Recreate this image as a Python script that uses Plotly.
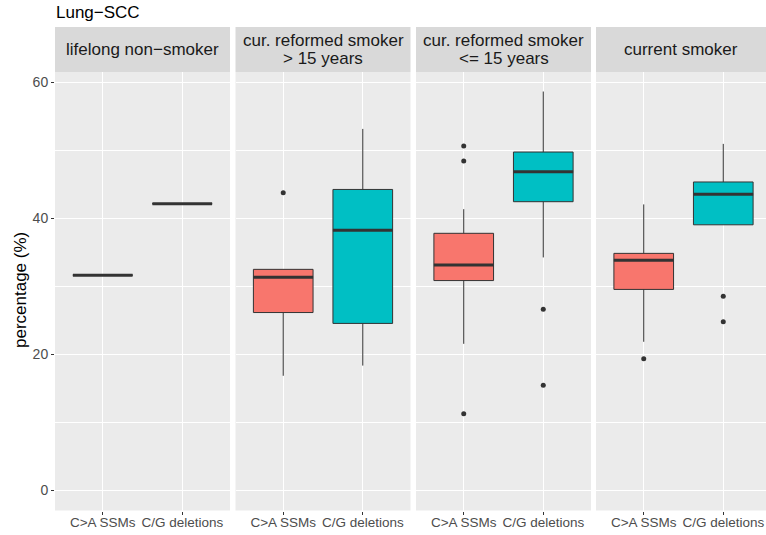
import plotly.graph_objects as go

# ---- data -------------------------------------------------------------
strip_lines = [
    ["lifelong non−smoker"],
    ["cur. reformed smoker", "&gt; 15 years"],
    ["cur. reformed smoker", "&lt;= 15 years"],
    ["current smoker"],
]
categories = ["C>A SSMs", "C/G deletions"]

# C>A SSMs box statistics per smoking group
ca_lower = [31.6, 16.8, 21.5, 21.8]
ca_q1 = [31.6, 26.1, 30.8, 29.5]
ca_median = [31.6, 31.3, 33.1, 33.8]
ca_q3 = [31.6, 32.45, 37.75, 34.8]
ca_upper = [31.6, 32.45, 41.3, 42.0]
ca_outliers = [[], [43.7], [50.6, 48.4, 11.2], [19.3]]

# C/G deletions box statistics per smoking group
cg_lower = [42.1, 18.3, 34.2, 39.0]
cg_q1 = [42.1, 24.5, 42.4, 39.0]
cg_median = [42.1, 38.2, 46.8, 43.5]
cg_q3 = [42.1, 44.2, 49.7, 45.3]
cg_upper = [42.1, 53.1, 58.6, 50.9]
cg_outliers = [[], [], [26.6, 15.4], [28.5, 24.75]]

y_ticks = [0, 20, 40, 60]

# ---- layout geometry ----------------------------------------------------
W, H = 766, 535
panel_px = [(55, 230), (235.5, 410.5), (416, 591), (596, 766)]
px_per_unit = 175 / 2.2
plot_top, plot_bottom = 72, 510.5
strip_top = 27
y_range = [-3.01, 61.47]
box_width = 0.75

fills = ["#F8766D", "#00BFC4"]
dark = "#333333"

fig = go.Figure()

stats = [
    (ca_lower, ca_q1, ca_median, ca_q3, ca_upper, ca_outliers),
    (cg_lower, cg_q1, cg_median, cg_q3, cg_upper, cg_outliers),
]

for p in range(4):
    xa = "x" if p == 0 else f"x{p + 1}"
    ya = "y" if p == 0 else f"y{p + 1}"
    for c, (lo, q1, med, q3, hi, outs) in enumerate(stats):
        pos = c + 1
        fig.add_trace(go.Box(
            x=[pos], q1=[q1[p]], median=[med[p]], q3=[q3[p]],
            lowerfence=[lo[p]], upperfence=[hi[p]],
            fillcolor=fills[c], line=dict(color=dark, width=1),
            width=box_width, whiskerwidth=0, boxpoints=False,
            showlegend=False, hoverinfo="skip", xaxis=xa, yaxis=ya,
        ))
        # thick median bar
        fig.add_trace(go.Scatter(
            x=[pos - box_width / 2, pos + box_width / 2], y=[med[p], med[p]],
            mode="lines", line=dict(color=dark, width=3),
            showlegend=False, hoverinfo="skip", xaxis=xa, yaxis=ya,
        ))
        if outs[p]:
            fig.add_trace(go.Scatter(
                x=[pos] * len(outs[p]), y=outs[p], mode="markers",
                marker=dict(color=dark, size=5),
                showlegend=False, hoverinfo="skip", xaxis=xa, yaxis=ya,
            ))

layout = dict(
    width=W, height=H,
    margin=dict(l=0, r=0, t=0, b=0),
    paper_bgcolor="white", plot_bgcolor="#EBEBEB",
    font=dict(family="Liberation Sans, Arial, sans-serif"),
    shapes=[], annotations=[],
)

y_dom = [(H - plot_bottom) / H, (H - plot_top) / H]

for p, (x0, x1) in enumerate(panel_px):
    suffix = "" if p == 0 else str(p + 1)
    width_units = (x1 - x0) / px_per_unit
    layout[f"xaxis{suffix}"] = dict(
        domain=[x0 / W, x1 / W], anchor=f"y{suffix}",
        range=[0.4, 0.4 + width_units],
        tickvals=[1, 2], ticktext=categories,
        tickfont=dict(size=13.5, color="#4D4D4D"),
        ticks="outside", ticklen=3, tickwidth=1, tickcolor=dark,
        ticklabelstandoff=-4,
        showgrid=True, gridcolor="white", gridwidth=1.1,
        zeroline=False, showline=False,
    )
    layout[f"yaxis{suffix}"] = dict(
        domain=y_dom, anchor=f"x{suffix}", range=y_range,
        tickvals=y_ticks, showticklabels=(p == 0),
        tickfont=dict(size=14, color="#4D4D4D"),
        ticks="outside" if p == 0 else "", ticklen=3, tickwidth=1, tickcolor=dark,
        showgrid=True, gridcolor="white", gridwidth=1.1,
        minor=dict(tickvals=[10, 30, 50], showgrid=True,
                   gridcolor="white", gridwidth=0.55, ticks=""),
        zeroline=False, showline=False,
    )
    # facet strip
    layout["shapes"].append(dict(
        type="rect", xref="paper", yref="paper",
        x0=x0 / W, x1=x1 / W, y0=(H - plot_top) / H, y1=(H - strip_top) / H,
        fillcolor="#D9D9D9", line=dict(width=0), layer="below",
    ))
    lines = strip_lines[p]
    mid = (strip_top + plot_top) / 2
    spacing = 18
    for k, txt in enumerate(lines):
        yc = mid + (k - (len(lines) - 1) / 2) * spacing
        layout["annotations"].append(dict(
            text=txt, xref="paper", yref="paper",
            x=(x0 + x1) / 2 / W, y=(H - yc) / H,
            xanchor="center", yanchor="middle", showarrow=False,
            font=dict(size=17, color="#1A1A1A"),
        ))

# y-axis title
layout["annotations"].append(dict(
    text="percentage (%)", xref="paper", yref="paper",
    x=20 / W, y=(H - 290) / H, textangle=-90,
    xanchor="center", yanchor="middle", showarrow=False,
    font=dict(size=17, color="black"),
))
# plot title
layout["annotations"].append(dict(
    text="Lung−SCC", xref="paper", yref="paper",
    x=54 / W, y=(H - 13) / H,
    xanchor="left", yanchor="middle", showarrow=False,
    font=dict(size=17, color="black"),
))

fig.update_layout(**layout)
fig.write_html("out.html")
